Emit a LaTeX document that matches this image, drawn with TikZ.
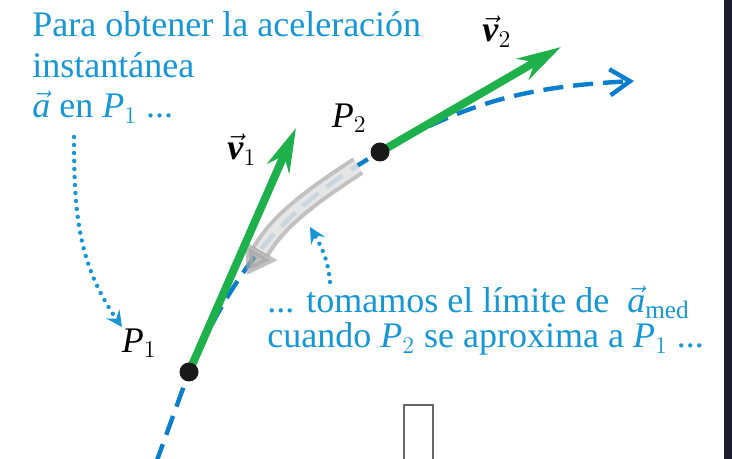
\documentclass[tikz,border=0pt]{standalone}
\usepackage{fontspec}
\setmainfont{Liberation Serif}
\usetikzlibrary{arrows.meta,positioning}
\definecolor{fisicaBlue}{RGB}{22,150,212}
\definecolor{fisicaPath}{RGB}{10,125,205}
\definecolor{fisicaGreen}{RGB}{30,176,74}
\definecolor{fisicaDark}{RGB}{28,30,46}

\begin{document}
\begin{tikzpicture}[
  x=0.5pt, y=0.5pt,
  trajectory/.style={
    fisicaPath,
    line width=2.2pt,
    dash pattern=on 10pt off 5pt,
    -{Straight Barb[length=10pt,width=13pt]}
  },
  velocity/.style={fisicaGreen,line width=4pt,-{Stealth[length=22pt,width=12pt,inset=7pt]}},
  approach/.style={black!35,line width=10pt,opacity=0.7,-{Triangle[length=14pt,width=18pt]}},
  approachcore/.style={white,line width=6pt,opacity=0.6,shorten >=14pt},
  hint/.style={
    fisicaBlue,
    line width=2.2pt,
    line cap=round,
    dash pattern=on 0pt off 4pt,
    -{Stealth[length=8pt,width=8pt,inset=3pt]}
  },
  pointdot/.style={circle,fill=black!90,minimum size=9.5pt,inner sep=0pt},
  note/.style={fisicaBlue,align=left,inner sep=0pt,anchor=base west},
  symbol/.style={black,inner sep=0pt,font=\fontsize{18}{20}\selectfont}
]
  \useasboundingbox (0,0) rectangle (732,459);

  \coordinate (start) at (156,-4);
  \coordinate (p1) at (189,87);
  \coordinate (p2) at (380,307);
  \coordinate (finish) at (634,378);
  \coordinate (v1tip) at (296,331);
  \coordinate (v2tip) at (561,412);
  \coordinate (g1) at (358,293);
  \coordinate (g2) at (247,184);

  % path of the particle
  \draw[trajectory] (start) to[out=70,in=250] (p1)
    to[out=66,in=210] (p2) to[out=30,in=183] (finish);

  % P2 moves towards P1
  \draw[approach] (g1) to[out=213,in=60] (g2);
  \draw[approachcore] (g1) to[out=213,in=60] (g2);

  \draw[velocity] (p1) -- (v1tip);
  \draw[velocity] (p2) -- (v2tip);

  \node[pointdot] (p1dot) at (p1) {};
  \node[pointdot] (p2dot) at (p2) {};

  \node[symbol,anchor=base west] (v1lbl) at (227,299) {$\vec{\textbf{\textit{v}}}_1$};
  \node[symbol,anchor=base west] (v2lbl) at (482,417) {$\vec{\textbf{\textit{v}}}_2$};
  \node[symbol,above left=3.5pt and 12.5pt of p1dot] (p1lbl) {$\mathit{P}_1$};
  \node[symbol,above left=6pt and 3pt of p2dot] (p2lbl) {$\mathit{P}_2$};

  \node[note,font=\fontsize{18}{20.25}\selectfont] (aim) at (32,341)
    {Para obtener la aceleración\\instantánea\\$\vec{\mathit{a}}$ en $\mathit{P}_1$ ...};
  \node[note,font=\fontsize{18}{17.5}\selectfont] (limit) at (267,111)
    {... tomamos el límite de \ $\vec{\mathit{a}}_{\mathrm{med}}$\\cuando $\mathit{P}_2$ se aproxima a $\mathit{P}_1$ ...};

  \coordinate (h1a) at (74,322);
  \coordinate (h1b) at (122,132);
  \coordinate (h2a) at (330,177);
  \coordinate (h2b) at (310,232);
  \draw[hint] (h1a) to[out=-90,in=125] (h1b);
  \draw[hint] (h2a) to[out=95,in=-60] (h2b);

  % screen leftovers
  \draw[black!60,line width=1pt] (404,-5) rectangle (433,54);
  \fill[fisicaDark] (724,0) rectangle (732,459);
\end{tikzpicture}
\end{document}
